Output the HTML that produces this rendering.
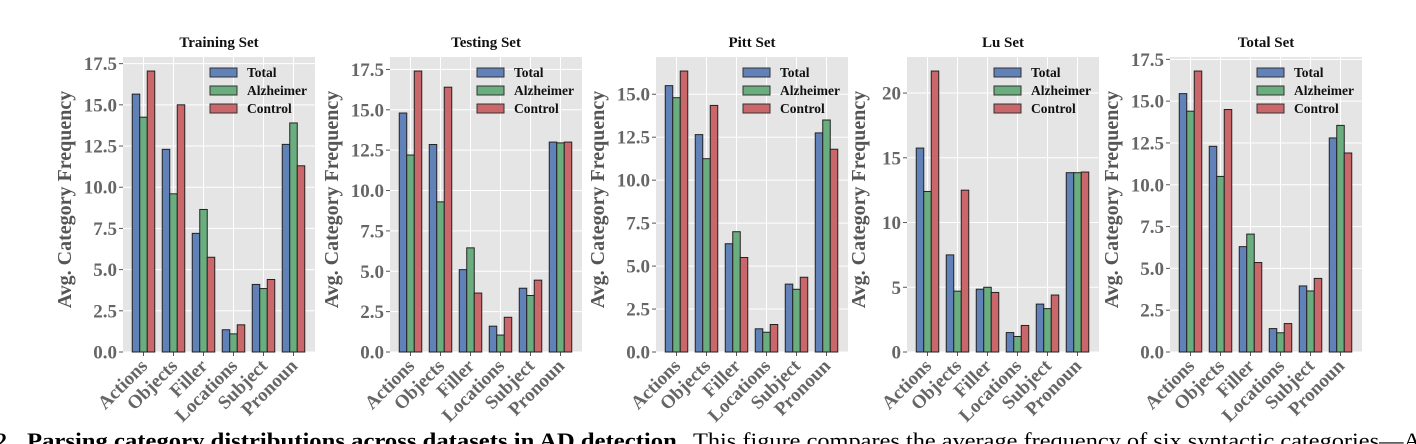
<!DOCTYPE html>
<html><head><meta charset="utf-8"><style>
html,body{margin:0;padding:0;background:#fff;}
svg{display:block;font-family:"Liberation Serif",serif;}
</style></head><body>
<svg id="fig" width="1416" height="444" viewBox="0 0 1416 444"></svg>
<script>
const categories = ["Actions","Objects","Filler","Locations","Subject","Pronoun"];
const seriesNames = ["Total","Alzheimer","Control"];
const panelTitles = ["Training Set","Testing Set","Pitt Set","Lu Set","Total Set"];
const trainTotal = [15.65,12.3,7.2,1.35,4.1,12.6];
const trainAlz = [14.25,9.6,8.65,1.1,3.85,13.9];
const trainCtrl = [17.05,15.0,5.75,1.65,4.4,11.3];
const testTotal = [14.8,12.85,5.1,1.6,3.95,13.0];
const testAlz = [12.2,9.3,6.45,1.05,3.5,12.95];
const testCtrl = [17.4,16.4,3.65,2.15,4.45,13.0];
const pittTotal = [15.5,12.65,6.3,1.35,3.95,12.75];
const pittAlz = [14.8,11.25,7.0,1.15,3.65,13.5];
const pittCtrl = [16.35,14.35,5.5,1.6,4.35,11.8];
const luTotal = [15.75,7.5,4.85,1.5,3.7,13.85];
const luAlz = [12.4,4.7,5.0,1.2,3.35,13.85];
const luCtrl = [21.7,12.5,4.6,2.05,4.4,13.9];
const allTotal = [15.45,12.3,6.3,1.4,3.95,12.8];
const allAlz = [14.4,10.5,7.05,1.15,3.65,13.55];
const allCtrl = [16.8,14.5,5.35,1.7,4.4,11.9];
const tickStep = [2.5,2.5,2.5,5,2.5];

const panelData = [[trainTotal,trainAlz,trainCtrl],[testTotal,testAlz,testCtrl],[pittTotal,pittAlz,pittCtrl],[luTotal,luAlz,luCtrl],[allTotal,allAlz,allCtrl]];
const plotLefts = [123,390,656,907,1170];
const colors = ["#6182b8","#6aad7f","#c9676a"];
const NS = "http://www.w3.org/2000/svg";
const svg = document.getElementById("fig");
function mk(tag, attrs, parent){const e=document.createElementNS(NS,tag);for(const k in attrs)e.setAttribute(k,attrs[k]);(parent||svg).appendChild(e);return e;}

const plotW=192, plotTop=57, plotBottom=352, plotH=plotBottom-plotTop;
panelData.forEach((series, p) => {
  const g = mk("g",{});
  
  
  const L = plotLefts[p];
  const maxV = Math.max(...series.flat());
  const ymax = maxV*1.05;
  const y = v => plotBottom - v/ymax*plotH;
  const xu = 30, x0 = L + 20.5;
  const x = v => x0 + v*xu;
  const bg = mk("rect",{x:L,y:plotTop,width:plotW,height:plotH,fill:"#e5e5e5"},g);
  
  
  const step = tickStep[p];
  for(let t=0; t<=ymax+1e-9; t+=step){
    const yy=y(t);
    const gl = mk("line",{x1:L,x2:L+plotW,y1:yy,y2:yy,stroke:"#fff","stroke-width":1},g);
    
    
    mk("line",{x1:L-4,x2:L,y1:yy,y2:yy,stroke:"#555","stroke-width":1},g);
    const lbl = step===5 ? String(t) : t.toFixed(1);
    const tl = mk("text",{x:L-6,y:yy+6.5,"text-anchor":"end","font-size":19,"font-weight":"bold",fill:"#666"},g);
    tl.textContent = lbl;
    
    
  }
  categories.forEach((c,i)=>{
    const xx=x(i);
    const vl = mk("line",{x1:xx,x2:xx,y1:plotTop,y2:plotBottom,stroke:"#fff","stroke-width":1},g);
    
    
    mk("line",{x1:xx,x2:xx,y1:plotBottom,y2:plotBottom+4,stroke:"#555","stroke-width":1},g);
    const t = mk("text",{x:0,y:0,"text-anchor":"end","font-size":19,"font-weight":"bold",fill:"#666",transform:`translate(${xx+5},${plotBottom+15}) rotate(-45)`},g);
    t.textContent = c;
    
    
  });
  series.forEach((vals,s)=>{
    vals.forEach((v,i)=>{
      const cx = x(i + (s-1)*0.25);
      const bw = 0.25*xu;
      const r = mk("rect",{x:cx-bw/2,y:y(v),width:bw,height:plotBottom-y(v),fill:colors[s],stroke:"#222","stroke-width":1},g);
      
      
    });
  });
  const tt = mk("text",{x:L+plotW/2,y:47,"text-anchor":"middle","font-size":15,"font-weight":"bold",fill:"#111"},g);
  tt.textContent = panelTitles[p];
  
  
  const yl = mk("text",{x:0,y:0,"text-anchor":"middle","font-size":20,"font-weight":"bold",fill:"#555",transform:`translate(${L-(p===3?42:52)},${(plotTop+plotBottom)/2-5}) rotate(-90)`},g);
  yl.textContent = "Avg. Category Frequency";
  
  
  seriesNames.forEach((n,s)=>{
    const ly = 68 + s*18;
    const pr = mk("rect",{x:L+87,y:ly,width:27,height:9,fill:colors[s],stroke:"#333","stroke-width":1},g);
    
    
    const lt = mk("text",{x:L+124,y:ly+9,"font-size":13.5,"font-weight":"bold",fill:"#111"},g);
    lt.textContent = n;
    
    
  });
});
const cap1 = mk("text",{x:-4,y:448,"font-size":22,"font-weight":"bold",fill:"#000"});
cap1.textContent = "2";


const cap2 = mk("text",{x:27,y:448,"font-size":22,"font-weight":"bold",fill:"#000",textLength:656,lengthAdjust:"spacingAndGlyphs"});
cap2.textContent = "Parsing category distributions across datasets in AD detection.";


const cap3 = mk("text",{x:693,y:448,"font-size":22,fill:"#000",textLength:728,lengthAdjust:"spacingAndGlyphs"});
cap3.textContent = "This figure compares the average frequency of six syntactic categories—A";


</script>
</body></html>
